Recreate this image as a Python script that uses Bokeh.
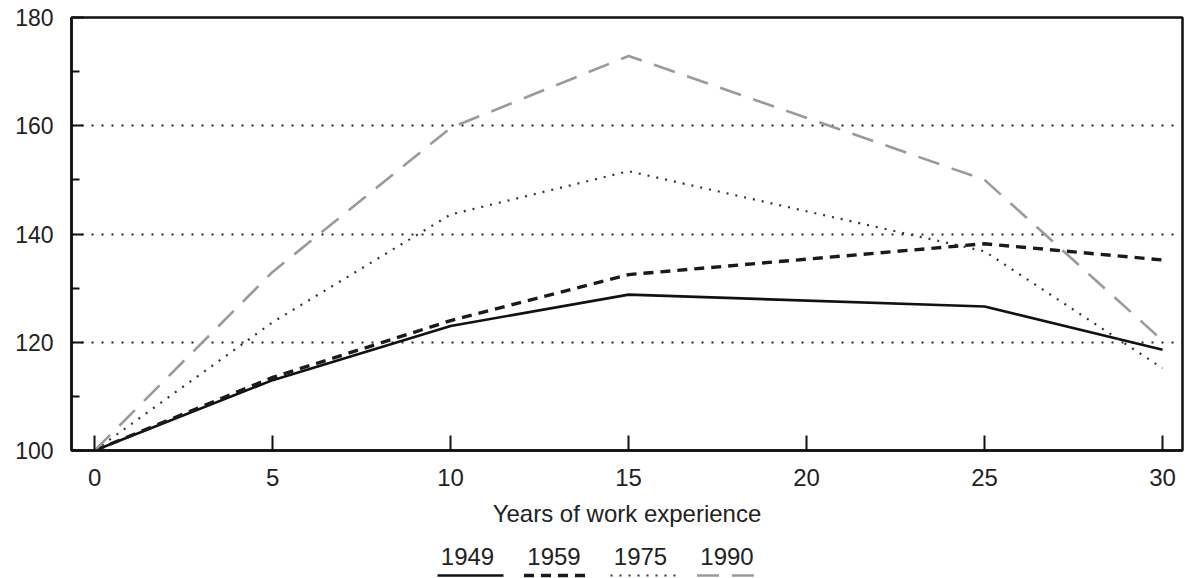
from bokeh.plotting import figure
from bokeh.models import Range1d, FixedTicker
from bokeh.layouts import column
from bokeh.embed import file_html
from bokeh.resources import INLINE
from bokeh.core.properties import value

# ---- data ----
years_exp = [0, 5, 10, 15, 25, 30]
s1949 = [100, 113, 123, 128.8, 126.6, 118.6]
s1959 = [100, 113.5, 124, 132.5, 138.2, 135.2]
s1975 = [100, 123.7, 143.6, 151.6, 136.8, 115.2]
s1990 = [100, 133, 159.6, 172.9, 150, 120.3]
series_names = ["1949", "1959", "1975", "1990"]
x_ticks = [0, 5, 10, 15, 20, 25, 30]
y_ticks = [100, 120, 140, 160, 180]
y_minor = [110, 130, 150, 170]
grid_levels = [120, 140, 160]

FONT = "Liberation Sans"
TXT = "#222222"

styles = {
    "1949": dict(line_color="#111111", line_width=2.6, line_dash="solid"),
    "1959": dict(line_color="#1a1a1a", line_width=3.4, line_dash="10 7"),
    "1975": dict(line_color="#333333", line_width=2.2, line_dash="2 7"),
    "1990": dict(line_color="#9a9a9a", line_width=2.6, line_dash="22 13"),
}
values = {"1949": s1949, "1959": s1959, "1975": s1975, "1990": s1990}

W = 1185
BL, BR = 71, 3

p = figure(width=W, height=540, output_backend="svg", toolbar_location=None,
           x_range=Range1d(-0.65, 30.56), y_range=Range1d(100, 180),
           min_border_left=BL, min_border_right=BR, min_border_top=17,
           min_border_bottom=90)
p.background_fill_color = "white"
p.border_fill_color = "white"
p.outline_line_color = "#111111"
p.outline_line_width = 2.5

for name in series_names:
    p.line(years_exp, values[name], **styles[name])

# axes
p.xaxis.ticker = FixedTicker(ticks=x_ticks)
p.yaxis.ticker = FixedTicker(ticks=y_ticks, minor_ticks=y_minor)
for ax in (p.xaxis[0], p.yaxis[0]):
    ax.axis_line_color = "#111111"
    ax.axis_line_width = 2.5
    ax.major_tick_line_color = "#111111"
    ax.major_tick_line_width = 2
    ax.major_tick_out = 0
    ax.minor_tick_out = 0
    ax.major_label_text_font = FONT
    ax.major_label_text_color = TXT
p.xaxis.major_tick_in = 15
p.xaxis.minor_tick_line_color = None
p.xaxis.major_label_text_font_size = "24px"
p.xaxis.major_label_standoff = 18
p.xaxis.axis_label = "Years of work experience"
p.xaxis.axis_label_text_font = FONT
p.xaxis.axis_label_text_font_size = "24px"
p.xaxis.axis_label_text_font_style = "normal"
p.xaxis.axis_label_text_color = TXT
p.xaxis.axis_label_standoff = 11

p.yaxis.major_tick_in = 12
p.yaxis.minor_tick_in = 8
p.yaxis.minor_tick_line_color = "#111111"
p.yaxis.minor_tick_line_width = 2
p.yaxis.major_label_text_font_size = "23px"
p.yaxis.major_label_standoff = 18

p.xgrid.visible = False
p.ygrid.ticker = FixedTicker(ticks=grid_levels)
p.ygrid.grid_line_color = "#222222"
p.ygrid.grid_line_width = 2
p.ygrid.grid_line_dash = "2 8"

# legend strip (labels above line samples); x in page pixels
lg = figure(width=W, height=38, output_backend="svg", toolbar_location=None,
            x_range=Range1d(BL, W - BR), y_range=Range1d(38, 0),
            min_border_left=BL, min_border_right=BR, min_border_top=0,
            min_border_bottom=0)
lg.axis.visible = False
lg.grid.visible = False
lg.outline_line_color = None
lg.background_fill_color = "white"
lg.border_fill_color = "white"

start_c = 467
step = 86.5
centers = [start_c + i * step for i in range(len(series_names))]
lg.text(x=centers, y=[16] * 4, text=series_names,
        text_font=value(FONT), text_font_size="24px", text_color=TXT,
        text_align="center", text_baseline="middle")
for c, name in zip(centers, series_names):
    lg.line([c - 30, c + 36], [35, 35], **styles[name])

layout = column(p, lg, spacing=0)
open("out.html", "w").write(file_html(layout, INLINE))
